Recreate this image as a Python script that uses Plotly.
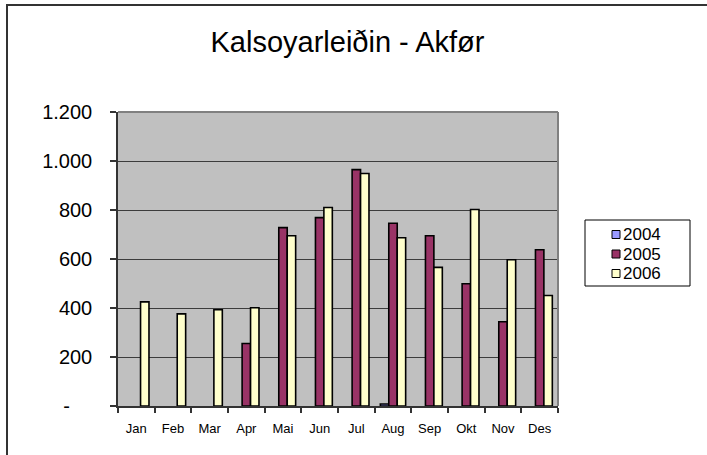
import plotly.graph_objects as go

months = ["Jan", "Feb", "Mar", "Apr", "Mai", "Jun", "Jul", "Aug", "Sep", "Okt", "Nov", "Des"]
v2004 = [None, None, None, None, None, None, None, 8, None, None, None, None]
v2005 = [None, None, None, 255, 728, 769, 965, 746, 695, 499, 344, 638]
v2006 = [425, 376, 393, 401, 695, 810, 949, 687, 566, 802, 597, 451]
series_names = ["2004", "2005", "2006"]
series_colors = ["#9999FF", "#993366", "#FFFFCC"]
y_tickvals = [0, 200, 400, 600, 800, 1000, 1200]
y_ticktext = ["-\u00a0\u00a0\u00a0\u00a0", "200", "400", "600", "800", "1.000", "1.200"]

W, H = 707, 455
L, R, T, B = 118, 558, 112, 406  # plot area in pixels

def px(x):
    return (x - L) / (R - L)

def py(y):
    return (B - y) / (B - T)

FONT = "Liberation Sans, Arial, sans-serif"

fig = go.Figure()
for name, vals, col in zip(series_names, [v2004, v2005, v2006], series_colors):
    fig.add_trace(go.Bar(
        x=months, y=vals, name=name,
        marker=dict(color=col, line=dict(color="#000000", width=1.6)),
        showlegend=False,
    ))

shapes = []
# outer frame
shapes.append(dict(type="rect", xref="paper", yref="paper",
                   x0=px(7), x1=px(720), y0=py(470), y1=py(5),
                   line=dict(color="#333333", width=2), fillcolor="rgba(0,0,0,0)", layer="below"))
# plot border top/right
shapes.append(dict(type="line", xref="paper", yref="paper", x0=0, x1=1, y0=1, y1=1,
                   line=dict(color="#808080", width=2)))
shapes.append(dict(type="line", xref="paper", yref="paper", x0=1, x1=1, y0=0, y1=1,
                   line=dict(color="#808080", width=2)))
# legend box
shapes.append(dict(type="rect", xref="paper", yref="paper",
                   x0=px(585), x1=px(690), y0=py(286), y1=py(220),
                   line=dict(color="#000000", width=1), fillcolor="#FFFFFF"))
annotations = []
row_y = [234.5, 254, 273.5]
for name, col, ry in zip(series_names, series_colors, row_y):
    shapes.append(dict(type="rect", xref="paper", yref="paper",
                       x0=px(612), x1=px(620), y0=py(ry + 4), y1=py(ry - 4),
                       line=dict(color="#000000", width=1), fillcolor=col))
    annotations.append(dict(xref="paper", yref="paper", x=px(622), y=py(ry),
                            xanchor="left", yanchor="middle", showarrow=False,
                            borderpad=0,
                            text=name, font=dict(family=FONT, size=17, color="#000000")))

fig.update_layout(
    width=W, height=H,
    margin=dict(l=L, r=W - R, t=T, b=H - B, pad=0),
    paper_bgcolor="#FFFFFF",
    plot_bgcolor="#C0C0C0",
    barmode="group",
    bargap=0.31,
    bargroupgap=0,
    font=dict(family=FONT, color="#000000"),
    title=dict(text="Kalsoyarleiðin - Akfør", x=347.5 / W, xref="container", xanchor="center",
               y=1 - 42 / H, yref="container", yanchor="middle",
               font=dict(family=FONT, size=29, color="#000000")),
    shapes=shapes,
    annotations=annotations,
    xaxis=dict(type="category", showline=True, linecolor="#333333", linewidth=1.5,
               ticks="outside", ticklen=5, tickcolor="#333333", tickwidth=1.5,
               tickson="boundaries", showgrid=False, zeroline=False,
               tickfont=dict(family=FONT, size=13, color="#000000"),
               ticklabelstandoff=10),
    yaxis=dict(range=[0, 1200], tickvals=y_tickvals, ticktext=y_ticktext,
               showline=True, linecolor="#333333", linewidth=1.5,
               ticks="outside", ticklen=6, tickcolor="#333333", tickwidth=1.5,
               showgrid=True, gridcolor="#3c3c3c", gridwidth=1, zeroline=False,
               tickfont=dict(family=FONT, size=20, color="#000000"),
               ticklabelstandoff=14),
)

fig.write_html("out.html", config={"displayModeBar": False},
               post_script="document.body.style.margin='0px';document.body.style.overflow='hidden';")
